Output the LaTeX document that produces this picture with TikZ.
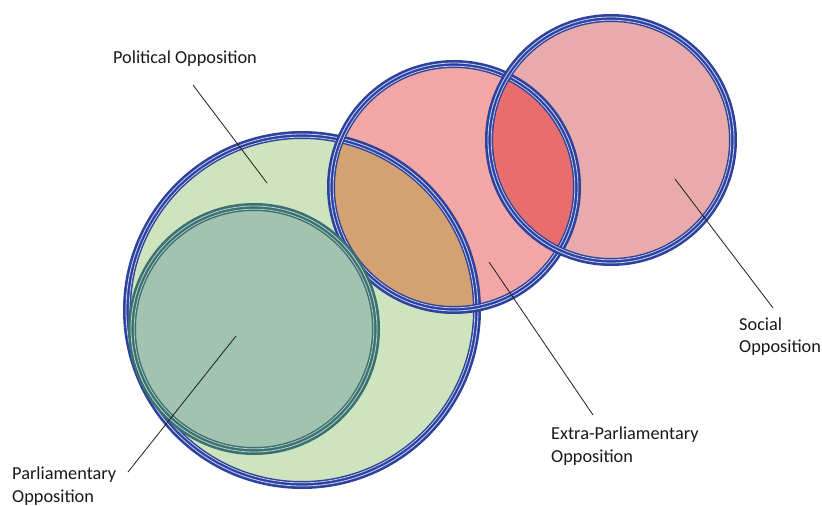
\documentclass[tikz,border=0pt]{standalone}
\usepackage{fontspec}
\setmainfont{Carlito}
\definecolor{polfill}{RGB}{205,228,190}
\definecolor{parlfill}{RGB}{162,195,176}
\definecolor{extrafill}{RGB}{243,166,166}
\definecolor{socfill}{RGB}{232,170,170}
\definecolor{tanfill}{RGB}{212,162,114}
\definecolor{redfill}{RGB}{232,110,110}
\definecolor{ringblue}{RGB}{44,66,158}
\definecolor{ringlight}{RGB}{205,212,240}
\definecolor{ringteal}{RGB}{58,112,112}
\definecolor{teallight}{RGB}{185,210,202}
\definecolor{leader}{RGB}{30,30,30}
\newcommand\vring[4]{%
  \draw[line width=8pt,#3] (#1) circle ({#2 pt});
  \draw[line width=0.8pt,#4] (#1) circle ({(#2+1)*1pt});
  \draw[line width=0.7pt,#4] (#1) circle ({(#2-2.2)*1pt});
}
\tikzset{
  lbl/.style={inner sep=0pt, align=left, text=black!90, font=\fontsize{18.3}{22.5}\selectfont},
  leaderline/.style={draw=leader, line width=0.8pt}
}
\begin{document}
\begin{tikzpicture}[x=1pt,y=-1pt]
\useasboundingbox (0,0) rectangle (822,506);
\coordinate (cPol) at (302,310);
\coordinate (cParl) at (254,329);
\coordinate (cExtra) at (454,187);
\coordinate (cSoc) at (611,140);
% fills
\fill[polfill] (cPol) circle (175pt);
\fill[extrafill] (cExtra) circle (123pt);
\fill[socfill] (cSoc) circle (122pt);
\fill[parlfill] (cParl) circle (122pt);
\begin{scope}
  \clip (cPol) circle (175pt);
  \fill[tanfill] (cExtra) circle (123pt);
\end{scope}
\begin{scope}
  \clip (cExtra) circle (123pt);
  \fill[redfill] (cSoc) circle (122pt);
\end{scope}
% rings
\vring{cPol}{175}{ringblue}{ringlight}
\vring{cExtra}{123}{ringblue}{ringlight}
\vring{cSoc}{122}{ringblue}{ringlight}
\vring{cParl}{122}{ringteal}{teallight}
% labels
\node[lbl, anchor=center] (tPol) at (185,59) {Political Opposition};
\node[lbl, anchor=west] (tParl) at (12,486) {Parliamentary\\Opposition};
\node[lbl, anchor=west] (tExtra) at (551,446) {Extra-Parliamentary\\Opposition};
\node[lbl, anchor=west] (tSoc) at (739,336.5) {Social\\Opposition};
% leader ends
\coordinate (aPol) at (193,85);
\coordinate (bPol) at (267,183);
\coordinate (aParl) at (128,472);
\coordinate (bParl) at (236,336);
\coordinate (aExtra) at (593,415);
\coordinate (bExtra) at (489,262);
\coordinate (aSoc) at (773,308);
\coordinate (bSoc) at (675,179);
\draw[leaderline] (aPol) -- (bPol);
\draw[leaderline] (aParl) -- (bParl);
\draw[leaderline] (aExtra) -- (bExtra);
\draw[leaderline] (aSoc) -- (bSoc);
\end{tikzpicture}
\end{document}
